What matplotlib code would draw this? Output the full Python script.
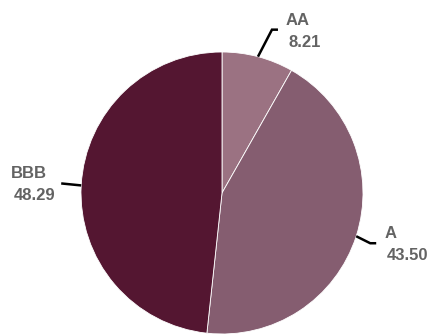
import numpy as np
import matplotlib
matplotlib.use("Agg")
import matplotlib.pyplot as plt

# rating shares (%)
labels = ["AA", "A", "BBB"]
values = [8.21, 43.50, 48.29]
colors = ["#9b7282", "#855d70", "#541631"]

# pie geometry in pixels
W, H = 431, 335
cx, cy, R = 222, 193, 141
# leader elbow offset from the slice edge, in pixels (dx right, dy up)
elbow_off = [(14, 27), (14, -7), (-20, 2)]

fig = plt.figure(figsize=(W / 100, H / 100), dpi=100)
ax = fig.add_axes([0, 0, 1, 1])

wedges, _ = ax.pie(values, colors=colors, startangle=90, counterclock=False,
                   radius=1, wedgeprops=dict(edgecolor="white", linewidth=0.6))

# pie() resets limits, so set them afterwards
ax.set_xlim(-cx / R, (W - cx) / R)
ax.set_ylim(-(H - cy) / R, cy / R)
ax.set_aspect("auto")
ax.set_axis_off()

px = 1 / R  # one pixel in data units
tstyle = dict(fontsize=12, fontweight="bold", color="#636363",
              family=["Liberation Sans", "DejaVu Sans"])

for w, lab, val, (dx, dy) in zip(wedges, labels, values, elbow_off):
    ang = np.deg2rad((w.theta1 + w.theta2) / 2)
    x0, y0 = np.cos(ang), np.sin(ang)
    x1, y1 = x0 + dx * px, y0 + dy * px
    side = 1 if x0 > 0 else -1
    x2 = x1 + 6 * px if side > 0 else x1
    ax.plot([x0, x1, x2], [y0, y1, y1], color="black", lw=1.8,
            solid_joinstyle="miter", solid_capstyle="butt")
    if side > 0:
        ax.text(x2 + 8 * px, y1 + 5 * px, lab, ha="left", va="baseline", **tstyle)
        ax.text(x2 + 11 * px, y1 - 17 * px, f"{val:.2f}", ha="left", va="baseline", **tstyle)
    else:
        ax.text(x2 - 50 * px, y1 + 5 * px, lab, ha="left", va="baseline", **tstyle)
        ax.text(x2 - 47 * px, y1 - 17 * px, f"{val:.2f}", ha="left", va="baseline", **tstyle)

fig.savefig("out.png", dpi=100, facecolor="white")
